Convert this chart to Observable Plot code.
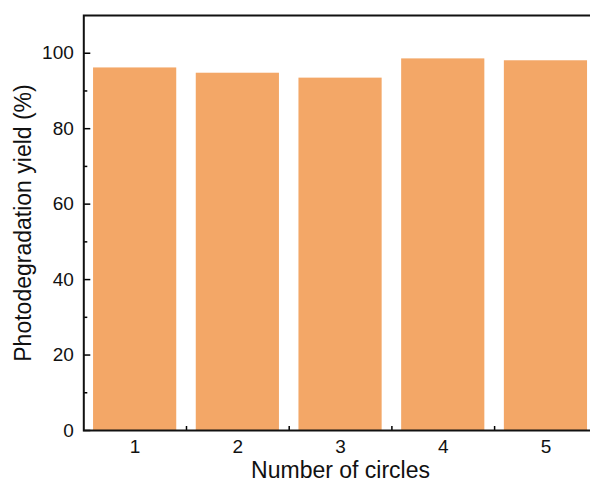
<!DOCTYPE html>
<html>
<head>
<meta charset="utf-8">
<script src="https://cdn.jsdelivr.net/npm/d3@7"></script>
<script src="https://cdn.jsdelivr.net/npm/@observablehq/plot@0.6"></script>
<style>
html, body { margin: 0; padding: 0; overflow: hidden; background: #fff; }
#chart { width: 590px; height: 483px; overflow: hidden; }
#chart svg { max-width: none !important; display: block; }
</style>
</head>
<body>
<div id="chart"></div>
<script>
const cycles = [1, 2, 3, 4, 5];
const yields = [96.1, 94.7, 93.4, 98.5, 98.0];
const yMajorTicks = [0, 20, 40, 60, 80, 100];
const yMinorTicks = [10, 30, 50, 70, 90];
const xTicks = [1, 2, 3, 4, 5];
const xMinorTicks = [1.5, 2.5, 3.5, 4.5];
const xLabel = "Number of circles";
const yLabel = "Photodegradation yield (%)";

const data = cycles.map((c, i) => ({cycle: c, value: yields[i]}));
const halfBar = 0.405;
const font = "'Liberation Sans', Arial, sans-serif";

const chart = Plot.plot({
  width: 600,
  height: 483,
  marginLeft: 83.3,
  marginRight: 3.2,
  marginTop: 15,
  marginBottom: 53,
  style: {fontFamily: font, fontSize: "19px", color: "#000", background: "#fff", maxWidth: "none"},
  x: {type: "linear", domain: [0.5, 5.5], axis: null},
  y: {domain: [0, 110], axis: null},
  marks: [
    Plot.rectY(data, {
      x1: d => d.cycle - halfBar,
      x2: d => d.cycle + halfBar,
      y1: 0,
      y2: "value",
      fill: "#F3A767"
    }),
    // y tick labels
    Plot.text(yMajorTicks, {y: d => d, text: d => String(d), frameAnchor: "left", textAnchor: "end", lineAnchor: "middle", dx: -10, fontSize: 19, fill: "#111"}),
    Plot.axisY({ticks: yMajorTicks, tickSize: -7, tickFormat: () => "", label: null, strokeWidth: 1.5}),
    Plot.axisY({ticks: yMinorTicks, tickSize: -4, tickFormat: () => "", label: null, strokeWidth: 1.5}),
    // x tick labels
    Plot.text(xTicks, {x: d => d, text: d => String(d), frameAnchor: "bottom", textAnchor: "middle", lineAnchor: "top", dy: 9, fontSize: 19, fill: "#111"}),
    Plot.axisX({ticks: xMinorTicks, tickSize: -4, tickFormat: () => "", label: null, strokeWidth: 1.5}),
    Plot.frame({stroke: "#111", strokeWidth: 2}),
    Plot.text([xLabel], {frameAnchor: "bottom", dy: 40, fontSize: 23, fill: "#111", textAnchor: "middle", lineAnchor: "middle"}),
    Plot.text([yLabel], {frameAnchor: "left", dx: -60, rotate: -90, fontSize: 23, fill: "#111", textAnchor: "middle", lineAnchor: "middle"})
  ]
});
document.getElementById("chart").appendChild(chart);
</script>
</body>
</html>
